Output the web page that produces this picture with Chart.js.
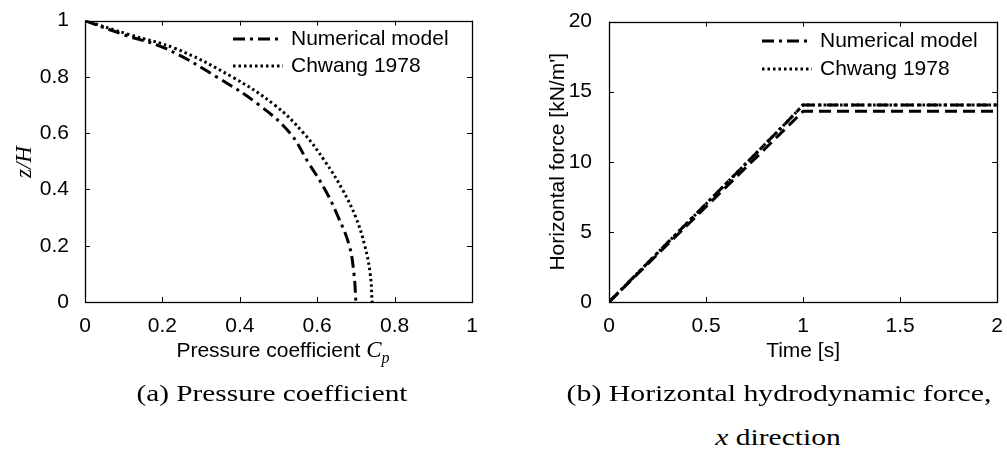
<!DOCTYPE html>
<html>
<head>
<meta charset="utf-8">
<script src="https://cdn.jsdelivr.net/npm/chart.js@4/dist/chart.umd.min.js"></script>
<style>
  body { margin: 0; background: #fff; width: 1007px; height: 450px; position: relative; overflow: hidden; }
  .box { position: absolute; top: 0; height: 380px; }
  .lbl { position: absolute; color: #000; white-space: nowrap; }
  .sans { font-family: "Liberation Sans", Arial, sans-serif; font-size: 21px; }
  .serif { font-family: "Liberation Serif", serif; font-size: 24px; }
</style>
</head>
<body>
<div class="box" style="left:0;width:500px"><canvas id="chartA"></canvas></div>
<div class="box" style="left:500px;width:507px"><canvas id="chartB"></canvas></div>

<div class="lbl" style="left:24px;top:162px;transform:translate(-50%,-50%) rotate(-90deg);font-family:'Liberation Serif',serif;font-style:italic;font-size:23px">z/H</div>
<div class="lbl sans" style="left:283px;top:352px;transform:translate(-50%,-50%)">Pressure coefficient <i style="font-family:'Liberation Serif',serif;font-size:23px">C<sub style="font-size:16px">p</sub></i></div>
<div class="lbl serif" style="left:272px;top:393px;transform:translate(-50%,-50%) scaleX(1.22)">(a) Pressure coefficient</div>
<div class="lbl serif" style="left:779px;top:393px;transform:translate(-50%,-50%) scaleX(1.24)">(b) Horizontal hydrodynamic force,</div>
<div class="lbl serif" style="left:778px;top:437px;transform:translate(-50%,-50%) scaleX(1.23)"><i>x</i> direction</div>

<script>
// (a) pressure coefficient profile
var zLevels = [1.0, 0.95, 0.9, 0.8, 0.7, 0.6, 0.5, 0.4, 0.3, 0.2, 0.1, 0.0];
var cpNumerical = [0, 0.10, 0.21, 0.34, 0.45, 0.53, 0.575, 0.62, 0.655, 0.683, 0.695, 0.70];
var cpChwang = [0, 0.115, 0.235, 0.38, 0.49, 0.565, 0.62, 0.665, 0.70, 0.723, 0.737, 0.742];

// (b) horizontal force time history
var timeS = [0, 0.1, 0.2, 0.3, 0.4, 0.5, 0.6, 0.7, 0.8, 0.9, 1.0, 2.0];
var forceNumerical = [0, 1.4, 2.8, 4.2, 5.6, 7.0, 8.4, 9.8, 11.2, 12.6, 14.05, 14.05];
var forceChwang = [0, 1.4, 2.8, 4.2, 5.6, 7.0, 8.4, 9.8, 11.2, 12.6, 14.05, 14.05];
var forceOther = [0, 1.36, 2.72, 4.08, 5.44, 6.8, 8.16, 9.52, 10.88, 12.24, 13.6, 13.6];

var dashDot = [12, 5, 3, 5];
var dotted = [2.5, 3];

Chart.defaults.font.family = '"Liberation Sans", Arial, sans-serif';
Chart.defaults.font.size = 21;
Chart.defaults.color = '#000';

function pts(xs, ys) {
  return xs.map(function (x, i) { return { x: x, y: ys[i] }; });
}

function plainTick(v) {
  return String(+Number(v).toFixed(2));
}

// box + inward ticks on all four sides
var boxTicks = {
  id: 'boxTicks',
  afterDatasetsDraw: function (chart) {
    var ctx = chart.ctx, a = chart.chartArea, sx = chart.scales.x, sy = chart.scales.y;
    ctx.save();
    ctx.strokeStyle = '#000';
    ctx.lineWidth = 1;
    ctx.setLineDash([]);
    ctx.beginPath();
    sx.ticks.forEach(function (t) {
      var px = Math.round(sx.getPixelForValue(t.value)) + 0.5;
      ctx.moveTo(px, a.bottom); ctx.lineTo(px, a.bottom - 5);
      ctx.moveTo(px, a.top); ctx.lineTo(px, a.top + 5);
    });
    sy.ticks.forEach(function (t) {
      var py = Math.round(sy.getPixelForValue(t.value)) + 0.5;
      ctx.moveTo(a.left, py); ctx.lineTo(a.left + 5, py);
      ctx.moveTo(a.right, py); ctx.lineTo(a.right - 5, py);
    });
    ctx.stroke();
    ctx.lineWidth = 1.3;
    ctx.strokeRect(Math.round(a.left) + 0.5, Math.round(a.top) + 0.5, Math.round(a.right - a.left), Math.round(a.bottom - a.top));
    ctx.restore();
  }
};

// legend drawn inside the plot area
var innerLegend = {
  id: 'innerLegend',
  afterDraw: function (chart, args, opts) {
    var ctx = chart.ctx;
    ctx.save();
    ctx.font = '21px "Liberation Sans", Arial, sans-serif';
    ctx.fillStyle = '#000';
    ctx.textBaseline = 'middle';
    var row = 0;
    chart.data.datasets.forEach(function (ds) {
      if (!ds.label) return;
      var y = opts.y + row * opts.step;
      ctx.strokeStyle = '#000';
      ctx.lineWidth = ds.borderWidth;
      ctx.setLineDash(ds.borderDash || []);
      ctx.beginPath();
      ctx.moveTo(opts.x, y);
      ctx.lineTo(opts.x + 50, y);
      ctx.stroke();
      ctx.setLineDash([]);
      ctx.fillText(ds.label, opts.x + 58, y);
      row++;
    });
    ctx.restore();
  }
};

new Chart(document.getElementById('chartA'), {
  type: 'scatter',
  data: {
    datasets: [{
      label: 'Numerical model',
      data: pts(cpNumerical, zLevels),
      showLine: true, borderColor: '#000', borderWidth: 3, borderDash: dashDot,
      pointRadius: 0, tension: 0.4
    }, {
      label: 'Chwang 1978',
      data: pts(cpChwang, zLevels),
      showLine: true, borderColor: '#000', borderWidth: 3, borderDash: dotted,
      pointRadius: 0, tension: 0.4
    }]
  },
  options: {
    responsive: true, maintainAspectRatio: false, animation: false,
    layout: { padding: { left: 0, top: 18, right: 28, bottom: 0 } },
    plugins: {
      legend: { display: false }, tooltip: { enabled: false },
      innerLegend: { x: 233, y: 39, step: 27 }
    },
    scales: {
      x: {
        min: 0, max: 1, ticks: { stepSize: 0.2, padding: 4, callback: plainTick },
        grid: { display: false }, border: { display: false },
        afterFit: function (s) { s.height = 78; }
      },
      y: {
        min: 0, max: 1, ticks: { stepSize: 0.2, padding: 8, callback: plainTick },
        grid: { display: false }, border: { display: false },
        afterFit: function (s) { s.width = 85; }
      }
    }
  },
  plugins: [boxTicks, innerLegend]
});

new Chart(document.getElementById('chartB'), {
  type: 'scatter',
  data: {
    datasets: [{
      label: 'Numerical model',
      data: pts(timeS, forceNumerical),
      showLine: true, borderColor: '#000', borderWidth: 3, borderDash: dashDot,
      pointRadius: 0, tension: 0
    }, {
      label: 'Chwang 1978',
      data: pts(timeS, forceChwang),
      showLine: true, borderColor: '#000', borderWidth: 3, borderDash: dotted,
      pointRadius: 0, tension: 0
    }, {
      label: '',
      data: pts(timeS, forceOther),
      showLine: true, borderColor: '#000', borderWidth: 3, borderDash: [12, 6],
      pointRadius: 0, tension: 0
    }]
  },
  options: {
    responsive: true, maintainAspectRatio: false, animation: false,
    layout: { padding: { left: 46, top: 19, right: 7, bottom: 16 } },
    plugins: {
      legend: { display: false }, tooltip: { enabled: false },
      innerLegend: { x: 262, y: 41, step: 28 }
    },
    scales: {
      x: {
        min: 0, max: 2, ticks: { stepSize: 0.5, padding: 4, callback: plainTick },
        grid: { display: false }, border: { display: false },
        title: { display: true, text: 'Time [s]', padding: 0 },
        afterFit: function (s) { s.height = 62; }
      },
      y: {
        min: 0, max: 20, ticks: { stepSize: 5, padding: 9, callback: plainTick },
        grid: { display: false }, border: { display: false },
        title: { display: true, text: "Horizontal force [kN/m']", padding: 0 },
        afterFit: function (s) { s.width = 63; }
      }
    }
  },
  plugins: [boxTicks, innerLegend]
});
</script>
</body>
</html>
